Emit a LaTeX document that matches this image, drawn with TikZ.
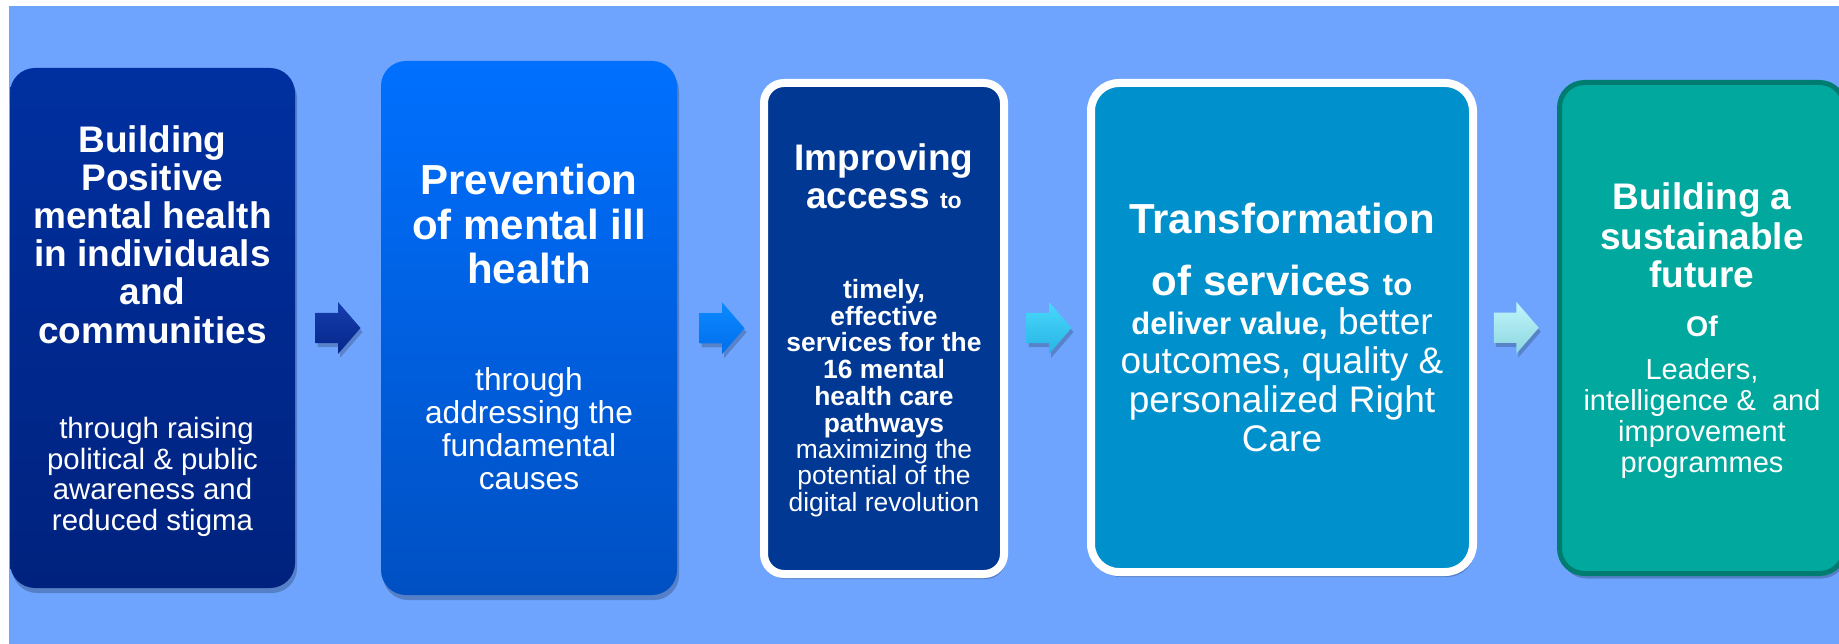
\documentclass[tikz,border=0pt]{standalone}
\usepackage{fontspec}
\setmainfont{Liberation Sans}
\usetikzlibrary{shadows,calc}
\definecolor{bgblue}{RGB}{110,164,254}
\definecolor{bAtop}{RGB}{0,48,160}
\definecolor{bAbot}{RGB}{0,34,126}
\definecolor{bBtop}{RGB}{0,112,255}
\definecolor{bBbot}{RGB}{0,80,194}
\definecolor{bCfill}{RGB}{0,56,148}
\definecolor{bDfill}{RGB}{0,145,204}
\definecolor{bEfill}{RGB}{0,168,158}
\definecolor{bEline}{RGB}{0,125,112}
\definecolor{aAtop}{RGB}{22,62,172}
\definecolor{aAbot}{RGB}{5,38,140}
\definecolor{aBtop}{RGB}{12,138,255}
\definecolor{aBbot}{RGB}{0,110,235}
\definecolor{aCtop}{RGB}{72,216,250}
\definecolor{aCbot}{RGB}{40,180,230}
\definecolor{aDtop}{RGB}{192,246,251}
\definecolor{aDbot}{RGB}{140,214,224}
\newcommand\myblockarrow[3]{%
  \path[shade, top color=#2, bottom color=#3, arrshadow]
    ([shift={(-22.5,-15)}]#1) -- ([shift={(0,-15)}]#1) -- ([shift={(0,-26)}]#1)
    -- ([shift={(22.5,0)}]#1) -- ([shift={(0,26)}]#1) -- ([shift={(0,15)}]#1)
    -- ([shift={(-22.5,15)}]#1) -- cycle;}
\begin{document}
\begin{tikzpicture}[x=1pt,y=-1pt,
  boxbase/.style={rectangle, inner sep=0pt, outer sep=0pt, anchor=north west},
  softshadow/.style={drop shadow={opacity=0.22, shadow xshift=2pt, shadow yshift=-5pt, fill=black}},
  arrshadow/.style={drop shadow={opacity=0.2, shadow xshift=2pt, shadow yshift=-4pt, fill=black}},
  txt/.style={text=white, align=center, anchor=base, inner sep=0pt, outer sep=0pt},
]
\useasboundingbox (0,0) rectangle (1839,644);
\fill[white] (0,0) rectangle (1839,644);
\fill[bgblue] (9,6) rectangle (1839,644);

% boxes
\node[boxbase, rounded corners=25pt, top color=bAtop, bottom color=bAbot, softshadow,
      minimum width=285pt, minimum height=520pt] (b1) at (10,68) {};
\node[boxbase, rounded corners=25pt, top color=bBtop, bottom color=bBbot, softshadow,
      minimum width=296pt, minimum height=534pt] (b2) at (381,61) {};
\node[boxbase, rounded corners=20pt, fill=bCfill, draw=white, line width=8pt, softshadow,
      minimum width=240pt, minimum height=491pt] (b3) at (764,83) {};
\node[boxbase, rounded corners=28pt, fill=bDfill, draw=white, line width=8pt, softshadow,
      minimum width=382pt, minimum height=489pt] (b4) at (1091,83) {};
\node[boxbase, rounded corners=25pt, fill=bEfill, draw=bEline, line width=5pt, softshadow,
      minimum width=285pt, minimum height=491pt] (b5) at (1559.5,82.5) {};

% arrows
\coordinate (a1) at ($(b1.east)!0.5!(b2.west)$);
\coordinate (a2) at ($(b2.east)!0.5!(b3.west)+(1.5,0)$);
\coordinate (a3) at ($(b3.east)!0.5!(b4.west)+(1.5,0)$);
\coordinate (a4) at ($(b4.east)!0.5!(b5.west)$);
\myblockarrow{a1}{aAtop}{aAbot}
\myblockarrow{a2}{aBtop}{aBbot}
\myblockarrow{a3}{aCtop}{aCbot}
\myblockarrow{a4}{aDtop}{aDbot}

% box 1 text (anchor = baseline of last line)
\node[txt, font=\fontsize{37}{38.2}\selectfont\bfseries] (t1a) at (152.5,343)
  {Building\\Positive\\mental health\\in individuals\\and\\communities};
\node[txt, font=\fontsize{29.4}{30.4}\selectfont] (t1b) at (152.5,530)
  {\hspace*{8pt}through raising\\political \& public\\awareness and\\reduced stigma};

% box 2 text
\node[txt, font=\fontsize{42}{44.5}\selectfont\bfseries] (t2a) at (529,284)
  {Prevention\\of mental ill\\health};
\node[txt, font=\fontsize{31.7}{33}\selectfont] (t2b) at (529,489)
  {through\\addressing the\\fundamental\\causes};

% box 3 text
\node[txt, font=\fontsize{37}{38}\selectfont\bfseries] (t3a) at (884,209)
  {Improving\\access {\fontsize{23}{23}\selectfont to}};
\node[txt, font=\fontsize{26.4}{26.75}\selectfont\bfseries] (t3b) at (884,432)
  {timely,\\effective\\services for the\\16 mental\\health care\\pathways};
\node[txt, font=\fontsize{26.4}{26.75}\selectfont] (t3c) at (884,511.5)
  {maximizing the\\potential of the\\digital revolution};

% box 4 text
\node[txt, font=\fontsize{42}{44}\selectfont\bfseries] (t4a) at (1282,234)
  {Transformation};
\node[txt, font=\fontsize{42}{44}\selectfont\bfseries] (t4b) at (1282,295)
  {of services {\fontsize{31}{31}\selectfont to}};
\node[txt, font=\fontsize{37}{38.7}\selectfont] (t4c) at (1282,451)
  {{\fontsize{31}{31}\selectfont\bfseries deliver value,} better\\outcomes, quality \&\\personalized Right\\Care};

% box 5 text
\node[txt, font=\fontsize{37}{39}\selectfont\bfseries] (t5a) at (1702,288)
  {Building a\\sustainable\\future};
\node[txt, font=\fontsize{28.5}{30}\selectfont\bfseries] (t5b) at (1702,337) {Of};
\node[txt, font=\fontsize{29}{31}\selectfont] (t5c) at (1702,472)
  {Leaders,\\intelligence \&~ and\\improvement\\programmes};
\end{tikzpicture}
\end{document}
